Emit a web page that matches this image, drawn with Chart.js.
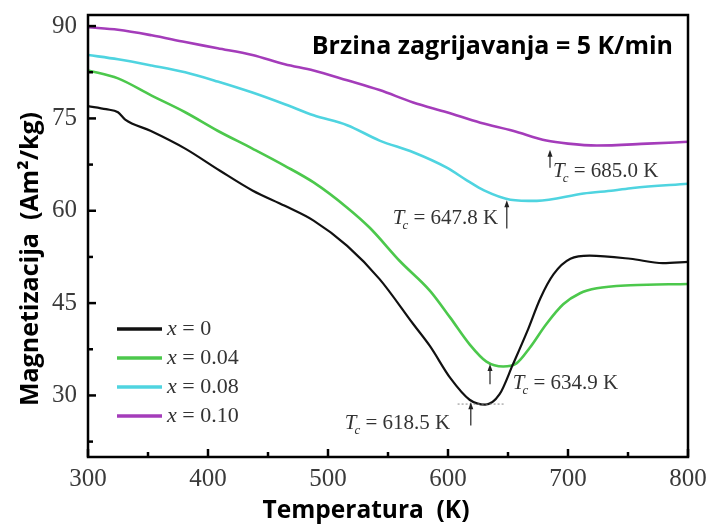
<!DOCTYPE html>
<html>
<head>
<meta charset="utf-8">
<script src="https://cdn.jsdelivr.net/npm/chart.js@4.4.0/dist/chart.umd.min.js"></script>
<style>
  html, body { margin: 0; padding: 0; background: #fff; }
</style>
</head>
<body>
<canvas id="c" width="711" height="525"></canvas>
<script>
// series: temperature (K) and magnetization (Am2/kg)
const tempX0 = [300, 315, 325, 331, 352, 381, 410, 437, 464, 488, 516, 543, 571, 585, 602, 618, 631, 643, 654, 666, 677, 688, 702, 718, 752, 779, 800];
const magX0 = [77.0, 76.5, 76.0, 74.8, 73.0, 70.1, 66.5, 63.3, 60.8, 58.4, 54.3, 48.9, 41.6, 38.0, 32.8, 29.3, 28.5, 30.2, 35.0, 40.4, 45.8, 49.7, 52.2, 52.7, 52.2, 51.5, 51.7];

const tempX004 = [300, 325, 353, 381, 408, 437, 464, 488, 516, 535, 560, 585, 602, 618, 632, 646, 657, 668, 682, 696, 710, 724, 752, 800];
const magX004 = [82.8, 81.5, 78.7, 76.0, 73.0, 70.1, 67.3, 64.6, 60.5, 57.2, 51.8, 47.0, 42.6, 38.3, 35.5, 34.7, 35.2, 37.7, 41.6, 44.8, 46.6, 47.4, 47.9, 48.1];

const tempX008 = [300, 325, 353, 381, 408, 437, 464, 488, 516, 543, 571, 599, 616, 630, 652, 674, 713, 738, 754, 800];
const magX008 = [85.3, 84.6, 83.6, 82.5, 81.0, 79.2, 77.3, 75.5, 73.9, 71.4, 69.5, 67.0, 64.9, 63.3, 61.8, 61.6, 62.8, 63.3, 63.7, 64.4];

const tempX010 = [300, 325, 353, 381, 408, 437, 464, 488, 516, 543, 571, 599, 627, 654, 682, 700, 724, 766, 800];
const magX010 = [89.8, 89.4, 88.5, 87.4, 86.4, 85.3, 83.8, 82.8, 81.2, 79.6, 77.6, 76.0, 74.3, 73.0, 71.4, 70.9, 70.6, 70.9, 71.2];

const seriesNames = ['0', '0.04', '0.08', '0.10'];
const seriesColors = ['#111111', '#4cc84c', '#4fd4e0', '#a43cba'];

const xTicks = [300, 350, 400, 450, 500, 550, 600, 650, 700, 750, 800];
const yTicks = [22.5, 30, 37.5, 45, 52.5, 60, 67.5, 75, 82.5, 90];

// Curie temperature notes: label text, label anchor (T, M), arrow (T, M from -> M to)
const tcNotes = [
  { text: '685.0 K', t: 687.5, m: 66.3, at: 685, m0: 67.0, m1: 69.9 },
  { text: '647.8 K', t: 554, m: 58.8, at: 649, m0: 57.1, m1: 61.7 },
  { text: '634.9 K', t: 654, m: 31.9, at: 635, m0: 31.8, m1: 35.1 },
  { text: '618.5 K', t: 514, m: 25.4, at: 619, m0: 25.1, m1: 28.9 }
];

const titleText = 'Brzina zagrijavanja = 5 K/min';
const xTitle = 'Temperatura  (K)';
const yTitle = 'Magnetizacija  (Am\u00b2/kg)';

function pts(ts, ms) {
  return ts.map((t, i) => ({ x: t, y: ms[i] }));
}

const allData = [pts(tempX0, magX0), pts(tempX004, magX004), pts(tempX008, magX008), pts(tempX010, magX010)];

const serif = '"Liberation Serif", "Times New Roman", serif';
const sans = '"Open Sans", "DejaVu Sans", sans-serif';

function line(ctx, x1, y1, x2, y2) {
  ctx.beginPath(); ctx.moveTo(x1, y1); ctx.lineTo(x2, y2); ctx.stroke();
}

const overlay = {
  id: 'overlay',
  afterDatasetsDraw(chart) {
    const { ctx, chartArea: a, scales: { x, y } } = chart;
    ctx.save();

    // frame
    ctx.strokeStyle = '#000';
    ctx.lineWidth = 2.5;
    ctx.strokeRect(a.left, a.top, a.right - a.left, a.bottom - a.top);

    // inward ticks, bottom and left only
    ctx.lineWidth = 2.5;
    xTicks.forEach(v => {
      const px = x.getPixelForValue(v);
      line(ctx, px, a.bottom, px, a.bottom - (v % 100 === 0 ? 8 : 5));
    });
    yTicks.forEach(v => {
      const py = y.getPixelForValue(v);
      line(ctx, a.left, py, a.left + (v % 15 === 0 ? 8 : 5), py);
    });

    // dotted tangent at the x=0 minimum
    ctx.strokeStyle = '#888';
    ctx.lineWidth = 1;
    ctx.setLineDash([2, 2]);
    line(ctx, x.getPixelForValue(608), y.getPixelForValue(28.6), x.getPixelForValue(648), y.getPixelForValue(28.6));
    ctx.setLineDash([]);

    // heading
    ctx.fillStyle = '#000';
    ctx.font = 'bold 25px ' + sans;
    ctx.textAlign = 'right';
    ctx.textBaseline = 'middle';
    ctx.fillText(titleText, a.right - 15, a.top + 32);

    // Tc notes
    ctx.textAlign = 'left';
    ctx.textBaseline = 'middle';
    tcNotes.forEach(n => {
      const px = x.getPixelForValue(n.t);
      const py = y.getPixelForValue(n.m);
      ctx.fillStyle = '#333';
      ctx.font = 'italic 21px ' + serif;
      ctx.fillText('T', px, py);
      let w = ctx.measureText('T').width;
      ctx.font = 'italic 13px ' + serif;
      ctx.fillText('c', px + w - 2, py + 7);
      w += ctx.measureText('c').width - 2;
      ctx.font = '21px ' + serif;
      ctx.fillText(' = ' + n.text, px + w, py);

      const ax = x.getPixelForValue(n.at);
      const y0 = y.getPixelForValue(n.m0);
      const y1 = y.getPixelForValue(n.m1);
      ctx.strokeStyle = '#222';
      ctx.lineWidth = 1.2;
      line(ctx, ax, y0, ax, y1 + 4);
      ctx.fillStyle = '#222';
      ctx.beginPath();
      ctx.moveTo(ax, y1);
      ctx.lineTo(ax - 2.5, y1 + 7);
      ctx.lineTo(ax + 2.5, y1 + 7);
      ctx.closePath();
      ctx.fill();
    });

    // legend
    seriesNames.forEach((name, i) => {
      const ly = a.top + 314 + i * 29;
      const lx = a.left + 29;
      ctx.strokeStyle = seriesColors[i];
      ctx.lineWidth = 3.5;
      line(ctx, lx, ly, lx + 45, ly);
      ctx.fillStyle = '#333';
      ctx.font = 'italic 22px ' + serif;
      ctx.fillText('x', lx + 50, ly);
      const w = ctx.measureText('x').width;
      ctx.font = '22px ' + serif;
      ctx.fillText(' = ' + name, lx + 50 + w, ly);
    });

    // axis titles
    ctx.fillStyle = '#000';
    ctx.textAlign = 'center';
    ctx.font = 'bold 24.5px ' + sans;
    ctx.fillText(xTitle, a.left + 278, a.bottom + 54);
    ctx.font = 'bold 25px ' + sans;
    ctx.translate(a.left - 57, (a.top + a.bottom) / 2 + 23);
    ctx.rotate(-Math.PI / 2);
    ctx.fillText(yTitle, 0, 0);

    ctx.restore();
  }
};

new Chart(document.getElementById('c'), {
  type: 'line',
  data: {
    datasets: allData.map((d, i) => ({
      label: 'x = ' + seriesNames[i],
      data: d,
      borderColor: seriesColors[i],
      backgroundColor: seriesColors[i],
      borderWidth: i === 0 ? 2.2 : 2.6,
      pointRadius: 0,
      cubicInterpolationMode: 'monotone',
      fill: false
    }))
  },
  options: {
    responsive: false,
    animation: false,
    devicePixelRatio: 1,
    layout: { padding: { left: 0, right: 23, top: 15, bottom: 0 } },
    plugins: { legend: { display: false }, tooltip: { enabled: false } },
    scales: {
      x: {
        type: 'linear',
        min: 300,
        max: 800,
        afterBuildTicks: s => { s.ticks = xTicks.map(v => ({ value: v })); },
        afterFit: s => { s.height = 68; s.paddingLeft = 0; s.paddingRight = 0; },
        grid: { display: false, drawTicks: false },
        border: { display: false },
        ticks: {
          autoSkip: false,
          maxRotation: 0,
          padding: 7,
          color: '#3a3a3a',
          font: { family: serif, size: 25 },
          callback: v => (v % 100 === 0 ? v : '')
        }
      },
      y: {
        type: 'linear',
        min: 20,
        max: 91.8,
        afterBuildTicks: s => { s.ticks = yTicks.map(v => ({ value: v })); },
        afterFit: s => { s.width = 88; s.paddingTop = 0; s.paddingBottom = 0; },
        grid: { display: false, drawTicks: false },
        border: { display: false },
        ticks: {
          autoSkip: false,
          padding: 11,
          color: '#3a3a3a',
          font: { family: serif, size: 25 },
          callback: v => (v % 15 === 0 ? v : '')
        }
      }
    }
  },
  plugins: [overlay]
});
</script>
</body>
</html>
